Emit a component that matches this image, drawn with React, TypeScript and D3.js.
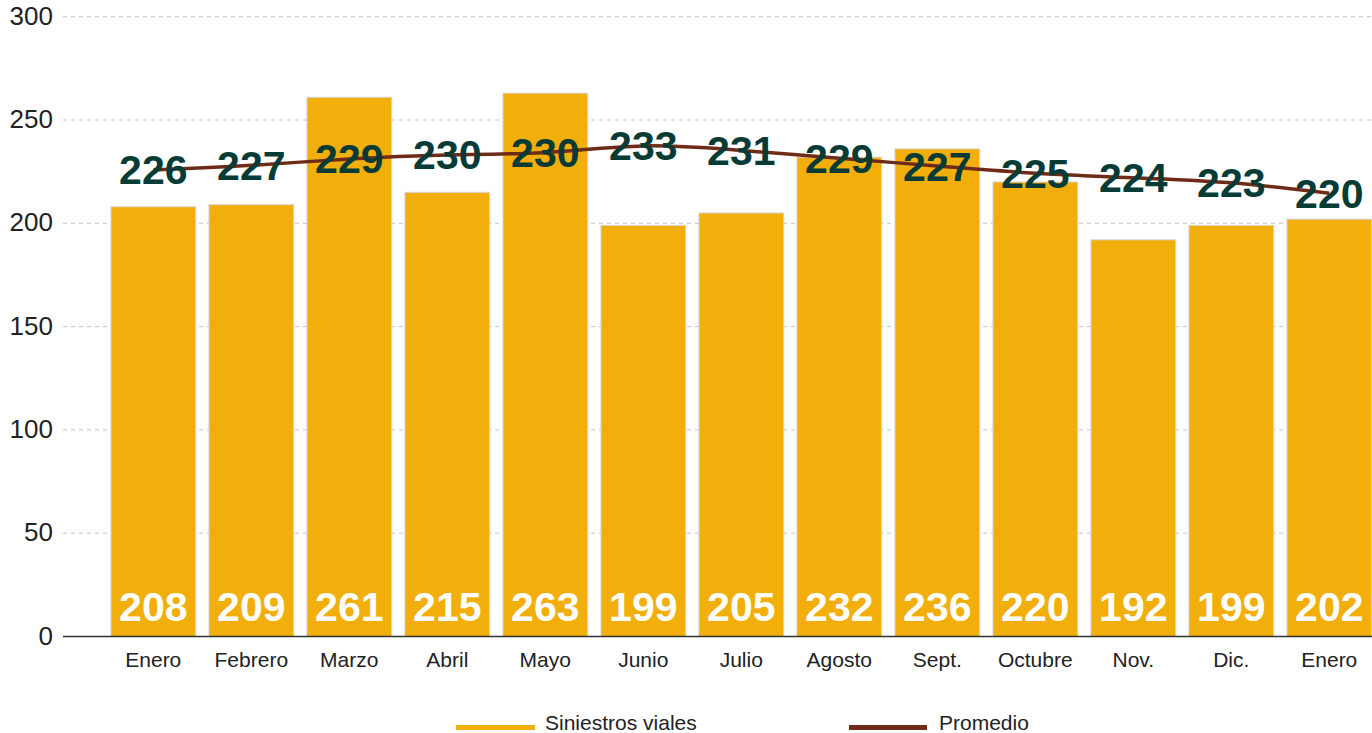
import React, { useEffect } from 'react'
import * as d3 from 'd3'

const months = ['Enero', 'Febrero', 'Marzo', 'Abril', 'Mayo', 'Junio', 'Julio', 'Agosto', 'Sept.', 'Octubre', 'Nov.', 'Dic.', 'Enero']
const siniestros = [208, 209, 261, 215, 263, 199, 205, 232, 236, 220, 192, 199, 202]
const promedio = [226, 227, 229, 230, 230, 233, 231, 229, 227, 225, 224, 223, 220]
const yTicks = [0, 50, 100, 150, 200, 250, 300]
const legendItems = ['Siniestros viales', 'Promedio']

const W = 1372
const H = 733
const BAR = '#F2AE0B'
const LINE = '#6E2B17'
const LABEL = '#073B35'
const FONT = '"Liberation Sans", Arial, Helvetica, sans-serif'

const App = () => {
  useEffect(() => {
    document.body.style.margin = '0'
    document.body.style.overflow = 'hidden'
  }, [])

  const x = d3
    .scaleBand<number>()
    .domain(months.map((_, i) => i))
    .range([104.3, 1378.3])
    .paddingInner(0.136)
    .paddingOuter(0.068)

  const y = d3.scaleLinear().domain([0, 300]).range([636.5, 16.7])
  // the average line sits on its own (hidden) axis
  const yLine = d3.scaleLinear().domain([106, 265.4]).range([636.5, 16.7])

  const cx = (i: number) => (x(i) as number) + x.bandwidth() / 2

  const line = d3
    .line<number>()
    .x((_, i) => cx(i))
    .y((d) => yLine(d))
    .curve(d3.curveBasis)

  // where the smoothed (basis) line passes over each month, for the labels
  const onCurve = (i: number) => {
    const n = promedio.length
    if (i === 0 || i === n - 1) return promedio[i]
    return (promedio[i - 1] + 4 * promedio[i] + promedio[i + 1]) / 6
  }

  return (
    <svg width={W} height={H} style={{ position: 'absolute', left: 0, top: 0 }} fontFamily={FONT}>
      {yTicks.filter((t) => t > 0).map((t) => (
        <line key={t} x1={63} x2={W} y1={y(t)} y2={y(t)} stroke='#c4c4c4' strokeWidth={1} strokeDasharray='4,4' />
      ))}
      {yTicks.map((t) => (
        <text key={t} x={53} y={y(t) + 8} textAnchor='end' fontSize={26} fill='#222'>
          {t}
        </text>
      ))}

      {siniestros.map((v, i) => (
        <rect
          key={i}
          x={x(i)}
          y={y(v)}
          width={x.bandwidth()}
          height={y(0) - y(v)}
          fill={BAR}
          stroke='#d4d4d4'
          strokeWidth={1}
        />
      ))}

      <line x1={63} x2={W} y1={y(0)} y2={y(0)} stroke='#333' strokeWidth={1.5} />

      {siniestros.map((v, i) => (
        <text key={i} x={cx(i)} y={y(0) - 16} textAnchor='middle' fontSize={41} fontWeight='bold' fill='#fff'>
          {v}
        </text>
      ))}

      <path d={line(promedio) || ''} fill='none' stroke={LINE} strokeWidth={3.5} />

      {promedio.map((v, i) => (
        <text key={i} x={cx(i)} y={yLine(onCurve(i)) + 14.5} textAnchor='middle' fontSize={41} fontWeight='bold' fill={LABEL}>
          {v}
        </text>
      ))}

      {months.map((m, i) => (
        <text key={i} x={cx(i)} y={667} textAnchor='middle' fontSize={21} fill='#222'>
          {m}
        </text>
      ))}

      <g>
        <rect x={456} y={725} width={79} height={5} fill={BAR} />
        <text x={545} y={730} fontSize={21} fill='#222'>
          {legendItems[0]}
        </text>
        <rect x={849} y={725} width={78} height={5} fill={LINE} />
        <text x={939} y={730} fontSize={21} fill='#222'>
          {legendItems[1]}
        </text>
      </g>
    </svg>
  )
}

export default App
